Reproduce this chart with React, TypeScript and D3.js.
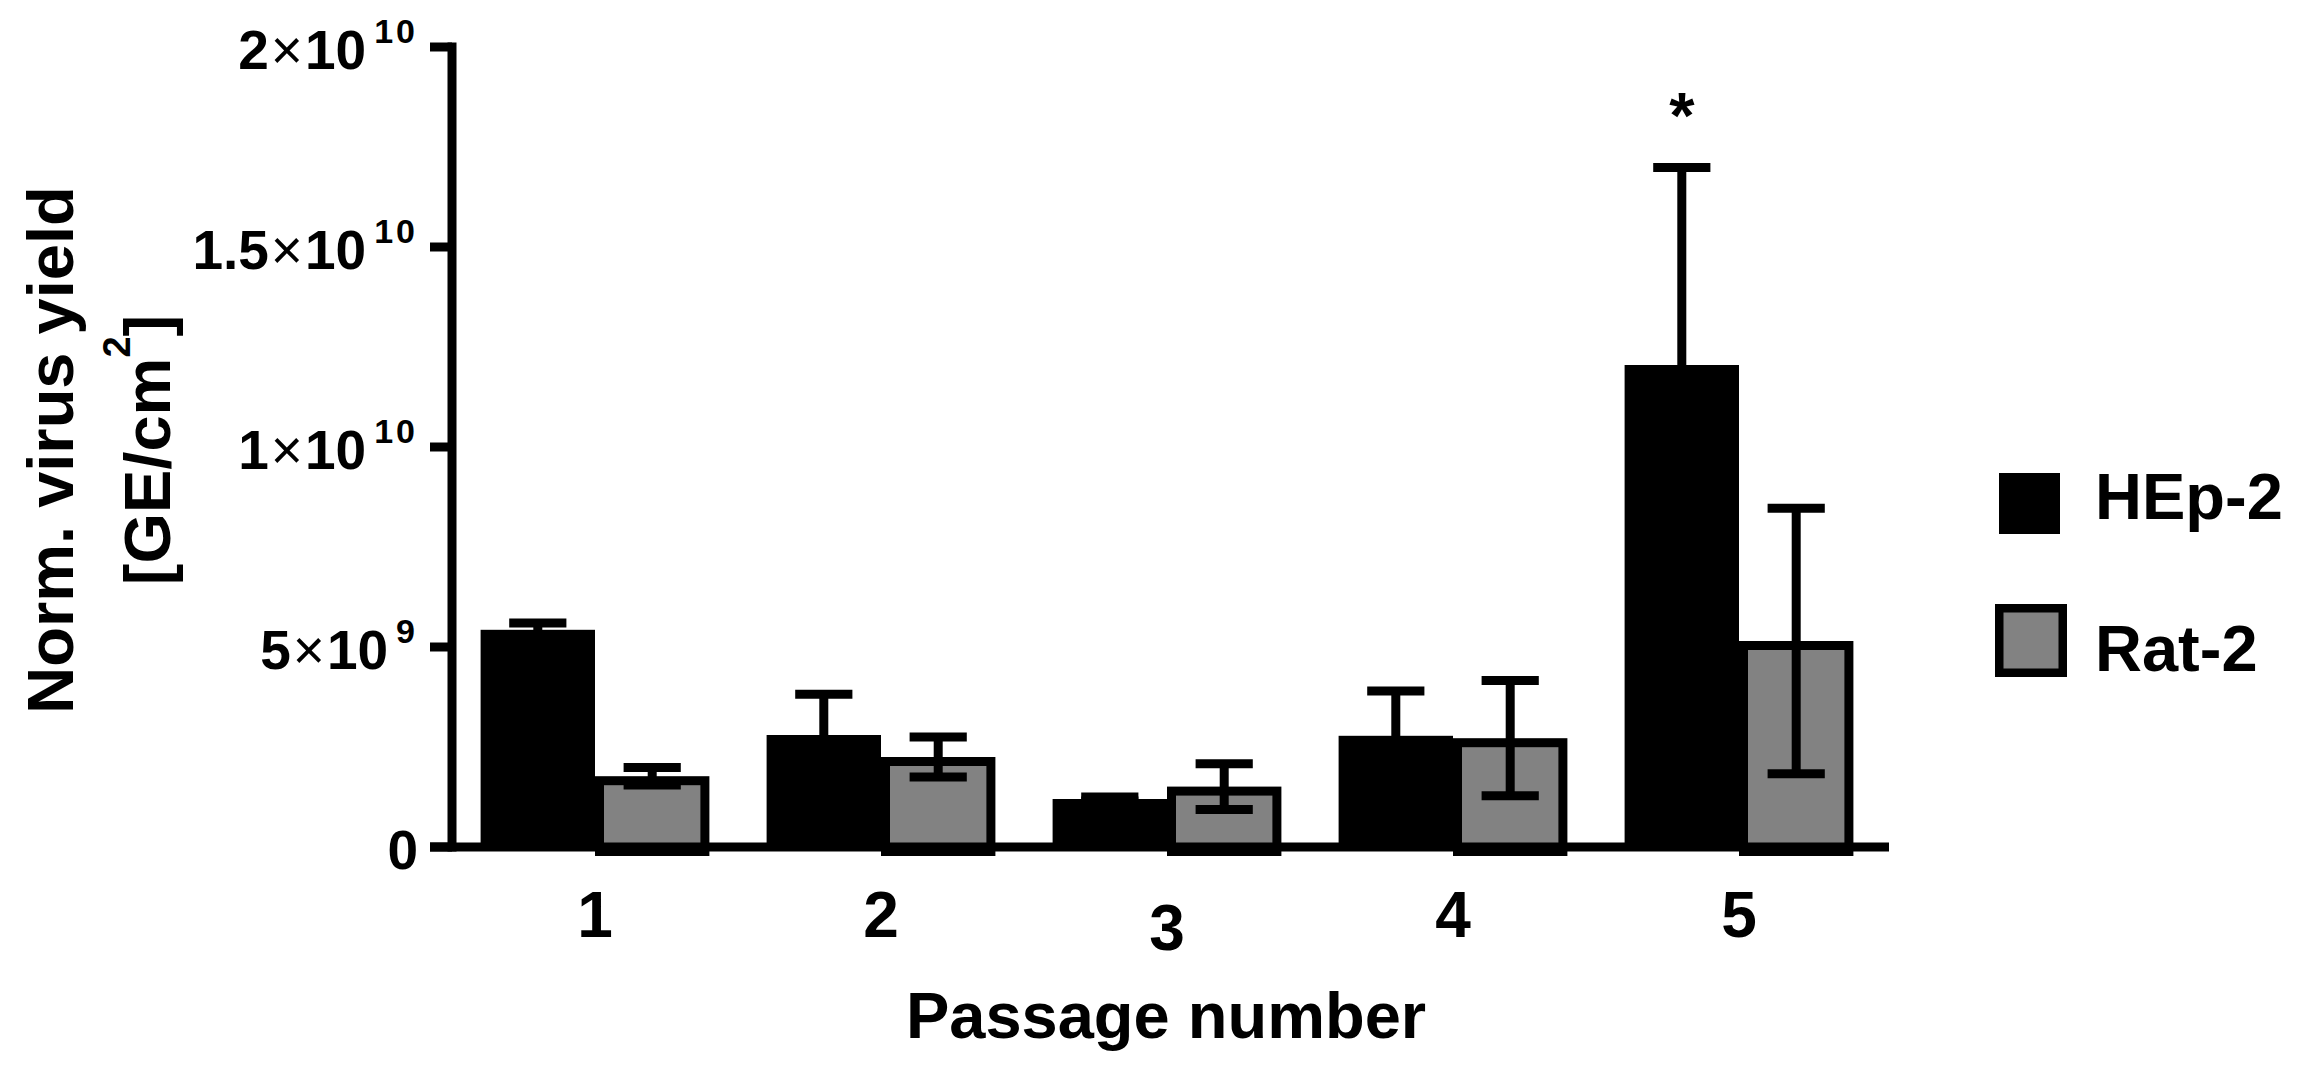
import React from "react";
import * as d3 from "d3";

const categories = ["1", "2", "3", "4", "5"];
const series = ["HEp-2", "Rat-2"];
const hep2Mean = [5.43e9, 2.8e9, 1.2e9, 2.78e9, 12.05e9];
const hep2Sem = [0.17e9, 1.02e9, 0.05e9, 1.12e9, 4.94e9];
const rat2Mean = [1.77e9, 2.25e9, 1.51e9, 2.72e9, 5.15e9];
const rat2Sem = [0.22e9, 0.5e9, 0.57e9, 1.44e9, 3.32e9];
const yTicks = [0, 5e9, 1e10, 1.5e10, 2e10];
const yTickMant = ["0", "5", "1", "1.5", "2"];
const yTickExp = ["", "9", "10", "10", "10"];
const significant = [false, false, false, false, true];

const FONT = "'Liberation Sans', Arial, Helvetica, sans-serif";
const GRAY = "#828282";
const LW = 9;

export default function App() {
  const W = 2305;
  const H = 1070;
  const x0 = d3
    .scaleBand<string>()
    .domain(categories)
    .range([452, 1882])
    .paddingInner(0.2)
    .paddingOuter(0.1);
  const x1 = d3.scaleBand<string>().domain(series).range([0, x0.bandwidth()]);
  const y = d3.scaleLinear().domain([0, 2e10]).range([847, 47]);
  const bw = x1.bandwidth();
  const capW = bw / 2;

  const errBar = (cx: number, m: number, s: number, key: string) => (
    <g key={key} stroke="#000" strokeWidth={LW}>
      <line x1={cx} x2={cx} y1={y(m + s)} y2={y(m - s)} />
      <line x1={cx - capW / 2} x2={cx + capW / 2} y1={y(m + s)} y2={y(m + s)} />
      <line x1={cx - capW / 2} x2={cx + capW / 2} y1={y(m - s)} y2={y(m - s)} />
    </g>
  );

  return (
    <svg
      width={W}
      height={H}
      style={{ position: "absolute", left: 0, top: 0, background: "#fff" }}
      fontFamily={FONT}
      fontWeight="bold"
    >
      <rect x={0} y={0} width={W} height={H} fill="#fff" />
      {/* HEp-2 bars */}
      {categories.map((c, i) => (
        <rect
          key={"h" + c}
          x={(x0(c) as number) + (x1("HEp-2") as number)}
          y={y(hep2Mean[i])}
          width={bw}
          height={y(0) - y(hep2Mean[i])}
          fill="#000"
        />
      ))}
      {/* Rat-2 bars */}
      {categories.map((c, i) => {
        const bx = (x0(c) as number) + (x1("Rat-2") as number);
        const by = y(rat2Mean[i]);
        const bh = y(0) - by;
        return (
          <rect
            key={"r" + c}
            x={bx + LW / 2}
            y={by + LW / 2}
            width={bw - LW}
            height={bh}
            fill={GRAY}
            stroke="#000"
            strokeWidth={LW}
          />
        );
      })}
      {/* error bars */}
      {categories.map((c, i) =>
        errBar((x0(c) as number) + (x1("HEp-2") as number) + bw / 2, hep2Mean[i], hep2Sem[i], "eh" + c)
      )}
      {categories.map((c, i) =>
        errBar((x0(c) as number) + (x1("Rat-2") as number) + bw / 2, rat2Mean[i], rat2Sem[i], "er" + c)
      )}
      {/* significance */}
      {categories.map((c, i) =>
        significant[i] ? (
          <text
            key={"s" + c}
            x={(x0(c) as number) + (x1("HEp-2") as number) + bw / 2}
            y={y(hep2Mean[i] + hep2Sem[i]) - 29}
            textAnchor="middle"
            fontSize={65}
          >
            *
          </text>
        ) : null
      )}
      {/* axes */}
      <line x1={452} x2={452} y1={y(2e10)} y2={y(0)} stroke="#000" strokeWidth={LW} strokeLinecap="square" />
      <line x1={430} x2={1889} y1={y(0)} y2={y(0)} stroke="#000" strokeWidth={LW} />
      {yTicks.map((t, i) => (
        <g key={"yt" + i}>
          <line x1={430} x2={452} y1={y(t)} y2={y(t)} stroke="#000" strokeWidth={LW} />
          <text x={418} y={y(t) + 22} textAnchor="end" fontSize={55}>
            {yTickMant[i]}
            {yTickExp[i] ? (
              <>
                <tspan fontWeight="normal" dx={2}>×</tspan>
                <tspan dx={2}>10</tspan>
                <tspan dx={8} dy={-26} fontSize={34} letterSpacing={3}>
                  {yTickExp[i]}
                </tspan>
              </>
            ) : null}
          </text>
        </g>
      ))}
      {categories.map((c) => (
        <text
          key={"xt" + c}
          x={(x0(c) as number) + x0.bandwidth() / 2}
          y={c === "3" ? 950 : 937}
          textAnchor="middle"
          fontSize={64}
        >
          {c}
        </text>
      ))}
      {/* axis titles */}
      <text x={1166} y={1038} textAnchor="middle" fontSize={65}>
        Passage number
      </text>
      <text transform="translate(73,450) rotate(-90)" textAnchor="middle" fontSize={65}>
        Norm. virus yield
      </text>
      <text transform="translate(170,450) rotate(-90)" textAnchor="middle" fontSize={65}>
        [GE/cm
        <tspan dy={-40} fontSize={38}>
          2
        </tspan>
        <tspan dy={40}>]</tspan>
      </text>
      {/* legend */}
      <rect x={1999} y={473} width={61} height={61} fill="#000" />
      <text x={2095} y={519} fontSize={65}>
        {series[0]}
      </text>
      <rect x={1999.25} y={608.25} width={63.5} height={64.5} fill={GRAY} stroke="#000" strokeWidth={8.5} />
      <text x={2095} y={671} fontSize={65}>
        {series[1]}
      </text>
    </svg>
  );
}
